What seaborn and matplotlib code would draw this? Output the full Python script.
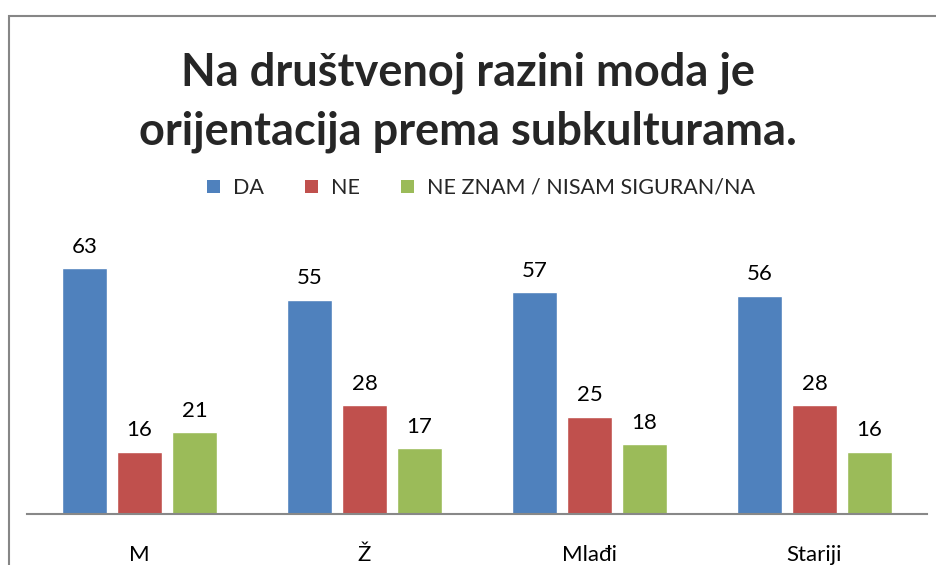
import matplotlib
matplotlib.use("Agg")
import matplotlib.pyplot as plt
from matplotlib.patches import Rectangle, Patch
import seaborn as sns
import pandas as pd

categories = ["M", "Ž", "Mlađi", "Stariji"]
answers = ["DA", "NE", "NE ZNAM / NISAM SIGURAN/NA"]
da_values = [63, 55, 57, 56]
ne_values = [16, 28, 25, 28]
ne_znam_values = [21, 17, 18, 16]
colors = ["#4F81BD", "#C0504D", "#9BBB59"]
title = "Na društvenoj razini moda je\norijentacija prema subkulturama."

rows = []
for ans, vals in zip(answers, [da_values, ne_values, ne_znam_values]):
    for cat, v in zip(categories, vals):
        rows.append({"kategorija": cat, "odgovor": ans, "vrijednost": v})
df = pd.DataFrame(rows)

sns.set_theme(style="white")
plt.rcParams["font.family"] = ["Lato", "DejaVu Sans"]

fig = plt.figure(figsize=(9.36, 5.65), dpi=100)
ax = fig.add_axes([27 / 936, 51 / 565, 900 / 936, 273 / 565])

sns.barplot(data=df, x="kategorija", y="vrijednost", hue="odgovor",
            order=categories, hue_order=answers, palette=colors,
            width=0.733, gap=0.18, saturation=1, legend=False, ax=ax)

for cont in ax.containers:
    ax.bar_label(cont, padding=8, fontsize=16, color="black")

ax.set_ylim(0, 70)
ax.set_xlim(-0.5, 3.5)
ax.set_xlabel("")
ax.set_ylabel("")
ax.set_yticks([])
for side in ["top", "left", "right"]:
    ax.spines[side].set_visible(False)
ax.spines["bottom"].set_color("#888888")
ax.spines["bottom"].set_linewidth(1.5)
ax.tick_params(axis="x", length=0, pad=22, labelsize=16, labelcolor="black")

# chart border (cut at right and bottom)
fig.patches.append(Rectangle((8.5 / 936, -0.1), 1.2, 1.1 - 16 / 565,
                             transform=fig.transFigure, fill=False,
                             edgecolor="#868686", linewidth=1.5))

fig.text(0.5, 1 - 102 / 565, title, ha="center", va="center",
         fontsize=32.5, fontweight="bold", linespacing=1.5)

handles = [Patch(facecolor=c, edgecolor="none") for c in colors]
fig.legend(handles, answers, loc="center", bbox_to_anchor=(481 / 936, 1 - 188 / 565),
           ncol=3, frameon=False, fontsize=15.5, handlelength=0.6, handleheight=0.6,
           handletextpad=0.6, columnspacing=1.9)

fig.savefig("out.png", dpi=100)
